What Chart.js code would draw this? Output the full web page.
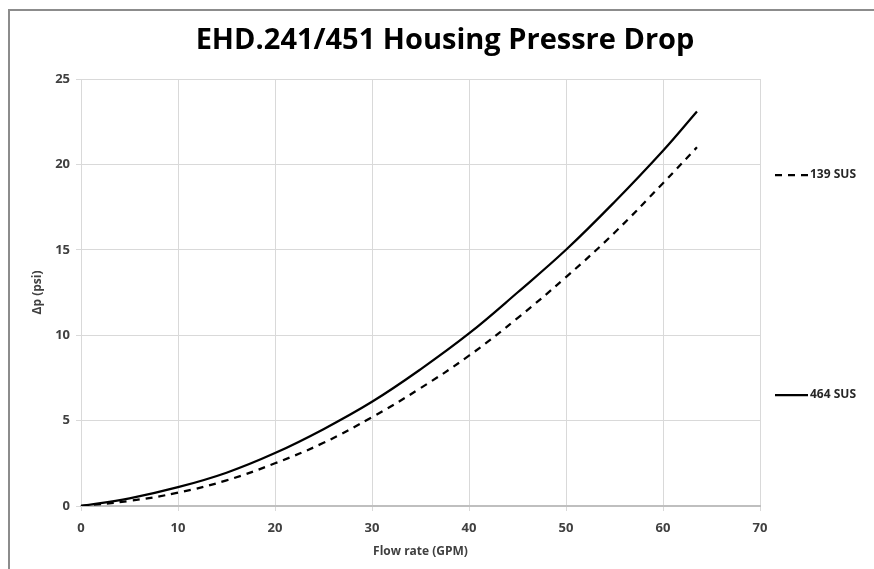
<!DOCTYPE html>
<html>
<head>
<meta charset="utf-8">
<script src="https://cdn.jsdelivr.net/npm/chart.js@4/dist/chart.umd.min.js"></script>
<style>
  html, body { margin: 0; padding: 0; background: #fff; overflow: hidden; }
  canvas { display: block; }
</style>
</head>
<body>
<canvas id="chart" width="874" height="569"></canvas>
<script>
const flowRate = [0, 5, 10, 15, 20, 25, 30, 35, 40, 45, 50, 55, 60, 63.5];
const sus464 = [0, 0.45, 1.1, 1.95, 3.1, 4.5, 6.1, 8.0, 10.1, 12.5, 15.0, 17.8, 20.8, 23.1];
const sus139 = [0, 0.3, 0.78, 1.5, 2.5, 3.7, 5.2, 6.9, 8.8, 11.0, 13.4, 16.0, 18.9, 21.0];
const xTicks = [0, 10, 20, 30, 40, 50, 60, 70];
const yTicks = [0, 5, 10, 15, 20, 25];
const chartTitle = 'EHD.241/451 Housing Pressre Drop';

const FONT = '"Open Sans", "Liberation Sans", sans-serif';

function points(ys) {
    return flowRate.map((x, i) => ({ x: x, y: ys[i] }));
}

// outer frame, title and the Excel-style legend on the right, drawn by hand
const decorations = {
    id: 'decorations',
    beforeDraw(chart) {
        const c = chart.ctx;
        c.save();
        c.strokeStyle = '#8c8c8c';
        c.lineWidth = 2;
        c.beginPath();
        c.moveTo(9, chart.height);
        c.lineTo(9, 10);
        c.lineTo(chart.width, 10);
        c.stroke();
        c.restore();
    },
    afterDraw(chart) {
        const c = chart.ctx;
        c.save();
        c.fillStyle = '#000';
        c.font = 'bold 29px ' + FONT;
        c.textAlign = 'center';
        c.textBaseline = 'middle';
        c.fillText(chartTitle, 445, 41);

        const items = [
            { label: '139 SUS', y: 175, dash: [7, 6] },
            { label: '464 SUS', y: 395, dash: [] }
        ];
        c.textAlign = 'left';
        items.forEach(it => {
            c.strokeStyle = '#000';
            c.lineWidth = 2.25;
            c.setLineDash(it.dash);
            c.beginPath();
            c.moveTo(775, it.y);
            c.lineTo(808, it.y);
            c.stroke();
            c.setLineDash([]);
            c.fillStyle = '#262626';
            c.font = 'bold 12px ' + FONT;
            c.fillText(it.label, 810, it.y);
        });
        c.restore();
    }
};

const ctx = document.getElementById('chart').getContext('2d');
const chart = new Chart(ctx, {
    type: 'line',
    data: {
        datasets: [{
            label: '139 SUS',
            data: points(sus139),
            borderColor: '#000',
            borderWidth: 2.25,
            borderDash: [7, 6],
            pointRadius: 0,
            tension: 0.4,
            fill: false
        }, {
            label: '464 SUS',
            data: points(sus464),
            borderColor: '#000',
            borderWidth: 2.25,
            pointRadius: 0,
            tension: 0.4,
            fill: false
        }]
    },
    options: {
        responsive: false,
        animation: false,
        layout: { padding: { left: 10, right: 114, top: 79, bottom: 0 } },
        plugins: {
            legend: { display: false },
            tooltip: { enabled: false },
            title: { display: false }
        },
        scales: {
            x: {
                type: 'linear',
                min: 0,
                max: 70,
                afterBuildTicks: s => { s.ticks = xTicks.map(v => ({ value: v })); },
                afterFit: s => { s.height = 63; },
                grid: { color: '#d9d9d9', tickLength: 5, lineWidth: 1 },
                border: { color: '#bfbfbf', width: 2 },
                ticks: { color: '#404040', font: { family: FONT, size: 13, weight: 'bold' }, padding: 9, maxRotation: 0 },
                title: {
                    display: true,
                    text: 'Flow rate (GPM)',
                    color: '#404040',
                    font: { family: FONT, size: 12, weight: 'bold' },
                    padding: { top: 4, bottom: 10 }
                }
            },
            y: {
                min: 0,
                max: 25,
                afterBuildTicks: s => { s.ticks = yTicks.map(v => ({ value: v })); },
                afterFit: s => { s.width = 71; },
                grid: { color: '#d9d9d9', tickLength: 5, lineWidth: 1 },
                border: { color: '#d9d9d9', width: 1 },
                ticks: { color: '#404040', font: { family: FONT, size: 13, weight: 'bold' }, padding: 6 },
                title: {
                    display: true,
                    text: 'Δp (psi)',
                    color: '#404040',
                    font: { family: FONT, size: 12, weight: 'bold' },
                    padding: { top: 20, bottom: 0 }
                }
            }
        }
    },
    plugins: [decorations]
});
</script>
</body>
</html>
